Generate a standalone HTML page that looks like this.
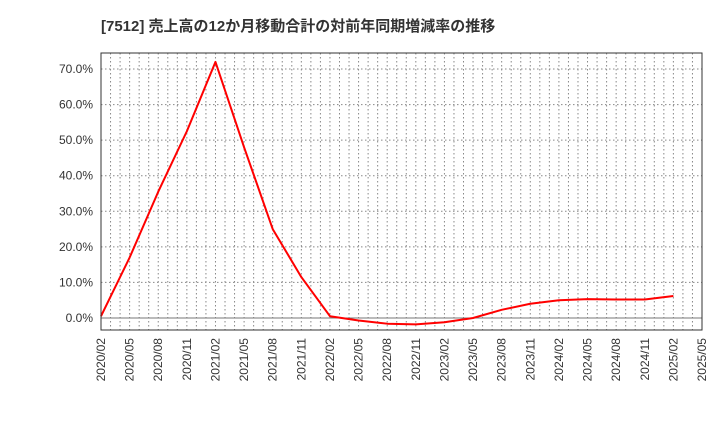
<!DOCTYPE html>
<html><head><meta charset="utf-8"><style>
body{margin:0;background:#fff;}
svg{display:block;font-family:"Liberation Sans","Noto Sans CJK JP",sans-serif;}
</style></head><body>
<svg id="chart" width="720" height="440">
<text x="101" y="31" font-size="15" font-weight="bold" fill="#333">[7512]  売上高の12か月移動合計の対前年同期増減率の推移</text>
<g id="grid"></g>
<g id="axes"></g>
<g id="series"></g>
<rect x="101" y="53" width="601" height="277" fill="none" stroke="#333" stroke-width="1"/>
</svg>
<script>
const xLabels=["2020/02","2020/05","2020/08","2020/11","2021/02","2021/05","2021/08","2021/11","2022/02","2022/05","2022/08","2022/11","2023/02","2023/05","2023/08","2023/11","2024/02","2024/05","2024/08","2024/11","2025/02","2025/05"];
const values=[0.5,17,35.5,52.5,72,48,25,11.5,0.5,-0.7,-1.6,-1.8,-1.2,0,2.3,4,5,5.3,5.2,5.2,6.2];
const yTicks=[0,10,20,30,40,50,60,70];
const ns="http://www.w3.org/2000/svg";
const L=101,R=702,T=53,B=330;
const qStep=(R-L)/21;
function xPos(i){return L+i*qStep;}
function yPos(v){return 318-v*3.557;}
function mk(t,a,p){const e=document.createElementNS(ns,t);for(const k in a)e.setAttribute(k,a[k]);p.appendChild(e);return e;}
const grid=document.getElementById('grid'),axes=document.getElementById('axes'),series=document.getElementById('series');
for(let m=1;m<63;m++){const x=L+m*qStep/3;
const g=mk('line',{x1:x,x2:x,y1:T,y2:B,stroke:'#888','stroke-width':1,'stroke-dasharray':'1.5,2.5'},grid);

}
yTicks.forEach(v=>{const y=yPos(v);
const g=mk('line',{x1:L,x2:R,y1:y,y2:y,stroke:v===0?'#777':'#888','stroke-width':1,'stroke-dasharray':v===0?'none':'1.5,2.5'},grid);


const t=mk('text',{x:L-8,y:y+4,'text-anchor':'end','font-size':12,fill:'#333'},axes);t.textContent=v.toFixed(1)+'%';

});
xLabels.forEach((s,i)=>{const x=xPos(i);
const t=mk('text',{x:x+4,y:338,'text-anchor':'end','font-size':12,fill:'#333',transform:`rotate(-90 ${x+4} 338)`},axes);t.textContent=s;

});
const pts=values.map((v,i)=>xPos(i)+','+yPos(v)).join(' ');
const pl=mk('polyline',{points:pts,fill:'none',stroke:'#f00','stroke-width':2,'stroke-linejoin':'round'},series);


</script>
</body></html>
